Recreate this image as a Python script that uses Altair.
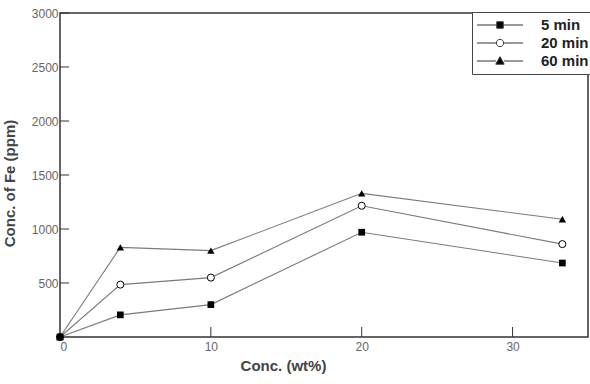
import altair as alt
import pandas as pd

# ---- data ----
x_vals = [0, 4, 10, 20, 33.3]
fe_5min = [0, 205, 300, 970, 685]
fe_20min = [0, 485, 550, 1215, 860]
fe_60min = [0, 830, 800, 1330, 1090]
series_names = ["5 min", "20 min", "60 min"]
y_ticks = [500, 1000, 1500, 2000, 2500, 3000]
x_ticks = [0, 10, 20, 30]

rows = []
for name, vals in zip(series_names, [fe_5min, fe_20min, fe_60min]):
    for xv, yv in zip(x_vals, vals):
        rows.append({"conc": xv, "fe": yv, "series": name})
df = pd.DataFrame(rows)
ytick_df = pd.DataFrame({"fe": y_ticks})
xtick_df = pd.DataFrame({"conc": x_ticks[1:]})

FONT = "Liberation Sans"
X_SCALE = alt.Scale(domain=[0, 35], nice=False)
Y_SCALE = alt.Scale(domain=[0, 3000], nice=False)

x_enc = alt.X(
    "conc:Q", scale=X_SCALE,
    axis=alt.Axis(
        values=x_ticks, title="Conc. (wt%)", grid=False, domain=False,
        ticks=False, labelPadding=4, format="d",
        labelFont=FONT, labelFontSize=12, labelColor="#666",
        titleFont=FONT, titleFontSize=15, titleFontWeight="bold", titleColor="#444",
        titleX=223, titleY=33, titleBaseline="alphabetic", titleAnchor="middle",
    ),
)
y_enc = alt.Y(
    "fe:Q", scale=Y_SCALE,
    axis=alt.Axis(
        values=y_ticks, title="Conc. of Fe (ppm)", grid=False, domain=False,
        ticks=False, labelPadding=2, format="d",
        labelFont=FONT, labelFontSize=12, labelColor="#666",
        titleFont=FONT, titleFontSize=15, titleFontWeight="bold", titleColor="#444",
        titleX=-51, titleY=170, titleAngle=270, titleBaseline="middle",
    ),
)

base = alt.Chart(df).encode(x=x_enc, y=y_enc)

# inward tick marks
yticks = alt.Chart(ytick_df).mark_rule(color="#333", strokeWidth=1).encode(
    y=alt.Y("fe:Q", scale=Y_SCALE), x=alt.value(0), x2=alt.value(9))
xticks = alt.Chart(xtick_df).mark_rule(color="#333", strokeWidth=1).encode(
    x=alt.X("conc:Q", scale=X_SCALE), y=alt.value(324), y2=alt.value(314))

lines = base.mark_line(color="#7a7a7a", strokeWidth=1.1).encode(detail="series:N")

# in-plot markers, one layer per series (5 min drawn last, on top)
pts60 = base.transform_filter("datum.series === '60 min'").mark_point(
    shape="triangle-up", filled=True, size=55, color="black", opacity=1)
pts20 = base.transform_filter("datum.series === '20 min'").mark_point(
    shape="circle", filled=False, fill="white", stroke="black", strokeWidth=1, size=50, opacity=1)
pts5 = base.transform_filter("datum.series === '5 min'").mark_point(
    shape="square", filled=True, size=45, color="black", opacity=1)

# legend-only layer: symbols are a line segment with the marker
# (symbol size 225 -> unit = 7.5 px; line spans +-3.07 units = 46 px)
legend_paths = [
    "M-3.07,0H-0.43M0.43,0H3.07M-0.43,-0.43H0.43V0.43H-0.43Z",
    "M-3.07,0H-0.49M0.49,0H3.07M0.49,0A0.49,0.49 0 1,1 -0.49,0A0.49,0.49 0 1,1 0.49,0Z",
    "M-3.07,0H-0.53M0.53,0H3.07M0,-0.58L0.56,0.42L-0.56,0.42Z",
]
legend_cfg = alt.Legend(
    title=None, orient="none", legendX=412, legendY=-1, padding=5,
    strokeColor="#444", fillColor="white",
    symbolSize=225, symbolStrokeWidth=1, symbolOpacity=1, symbolOffset=15,
    labelFont=FONT, labelFontSize=15, labelFontWeight="bold", labelColor="#222",
    labelOffset=33, rowPadding=2,
)
legend_layer = base.mark_point(filled=True, stroke="#333", strokeWidth=1, opacity=0).encode(
    shape=alt.Shape("series:N", scale=alt.Scale(domain=series_names, range=legend_paths),
                    legend=legend_cfg),
    fill=alt.Fill("series:N", scale=alt.Scale(domain=series_names,
                  range=["black", "white", "black"]), legend=legend_cfg),
)

chart = (
    alt.layer(yticks, xticks, lines, legend_layer, pts60, pts20, pts5)
    .properties(
        width=528, height=324,
        autosize=alt.AutoSizeParams(type="none"),
        padding={"left": 60, "top": 13, "right": 2, "bottom": 47},
        background="white",
    )
    .configure_view(stroke="#333", strokeWidth=1.5)
)

chart.save("out.html", embed_options={"renderer": "svg", "actions": False})
